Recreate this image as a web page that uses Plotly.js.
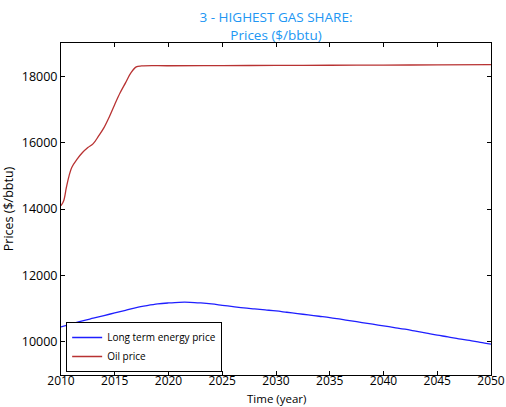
<!DOCTYPE html>
<html>
<head>
<meta charset="utf-8">
<script src="https://cdn.plot.ly/plotly-3.0.1.min.js"></script>
<style>html,body{margin:0;padding:0;background:#fff;}#chart{width:506px;height:407px;}</style>
</head>
<body>
<div id="chart"></div>
<script>
const ltYears = [2010,2011,2012,2013,2014,2015,2016,2017,2018,2019,2020,2021,2022,2023,2024,2025,2026,2027,2028,2029,2030,2031,2032,2033,2034,2035,2036,2037,2038,2039,2040,2041,2042,2043,2044,2045,2046,2047,2048,2049,2050];
const ltPrice = [10450,10540,10630,10710,10790,10870,10950,11030,11090,11140,11170,11190,11190,11170,11140,11100,11060,11020,10990,10960,10930,10890,10850,10810,10770,10730,10680,10630,10580,10530,10480,10430,10380,10320,10260,10200,10150,10090,10040,9980,9930];
const oilYears = [2010,2010.25,2010.5,2010.75,2011,2011.5,2012,2012.5,2013,2013.5,2014,2014.5,2015,2015.5,2016,2016.5,2017,2017.5,2020,2025,2030,2035,2040,2045,2050];
const oilPrice = [14100,14250,14650,15000,15250,15500,15700,15850,15970,16200,16450,16780,17150,17500,17800,18100,18280,18310,18315,18320,18325,18330,18335,18340,18350];
const xTicks = [2010,2015,2020,2025,2030,2035,2040,2045,2050];
const yTicks = [10000,12000,14000,16000,18000];
const yTickText = ['10000','12000','14000','16000','18000'];

const font = "Open Sans, Liberation Sans, sans-serif";
const traces = [
  {x: ltYears, y: ltPrice, mode: 'lines', name: 'Long term energy price', line: {color: '#1f1fff', width: 1.3, shape: 'spline'}},
  {x: oilYears, y: oilPrice, mode: 'lines', name: 'Oil price', line: {color: '#b83232', width: 1.3, shape: 'spline'}}
];
const axisCommon = {showgrid: false, zeroline: false, showline: true, linecolor: '#000', linewidth: 1, mirror: 'ticks', ticks: 'inside', ticklen: 4, tickcolor: '#000', tickfont: {family: font, size: 12.5, color: '#000'}};
const layout = {
  width: 506, height: 407,
  margin: {l: 61, r: 15, t: 43, b: 32},
  paper_bgcolor: '#fff', plot_bgcolor: '#fff',
  title: {text: '3 - HIGHEST GAS SHARE:<br>Prices ($/bbtu)', font: {family: font, size: 13.5, color: '#2196f3'}, x: 0.5, xref: 'paper', xanchor: 'center', y: 1, yref: 'paper', yanchor: 'bottom', pad: {b: 21}},
  xaxis: Object.assign({}, axisCommon, {range: [2010, 2050], tickvals: xTicks, ticklabelstandoff: -5, tickfont: {family: font, size: 12, color: '#000'}}),
  yaxis: Object.assign({}, axisCommon, {range: [9000, 19000], tickvals: yTicks, ticktext: yTickText, title: {text: 'Prices ($/bbtu)', font: {family: font, size: 12.5, color: '#000'}, standoff: 8}}),
  annotations: [{text: 'Time (year)', xref: 'paper', yref: 'paper', x: 0.5, y: 0, xanchor: 'center', yanchor: 'top', yshift: -14, showarrow: false, font: {family: font, size: 11.5, color: '#000'}}],
  showlegend: true,
  legend: {x: 0.012, y: 0.009, xanchor: 'left', yanchor: 'bottom', bordercolor: '#000', borderwidth: 1, bgcolor: '#fff', font: {family: font, size: 10, color: '#000'}, tracegroupgap: 0, itemwidth: 30}
};
Plotly.newPlot('chart', traces, layout, {displayModeBar: false, staticPlot: true});
</script>
</body>
</html>
